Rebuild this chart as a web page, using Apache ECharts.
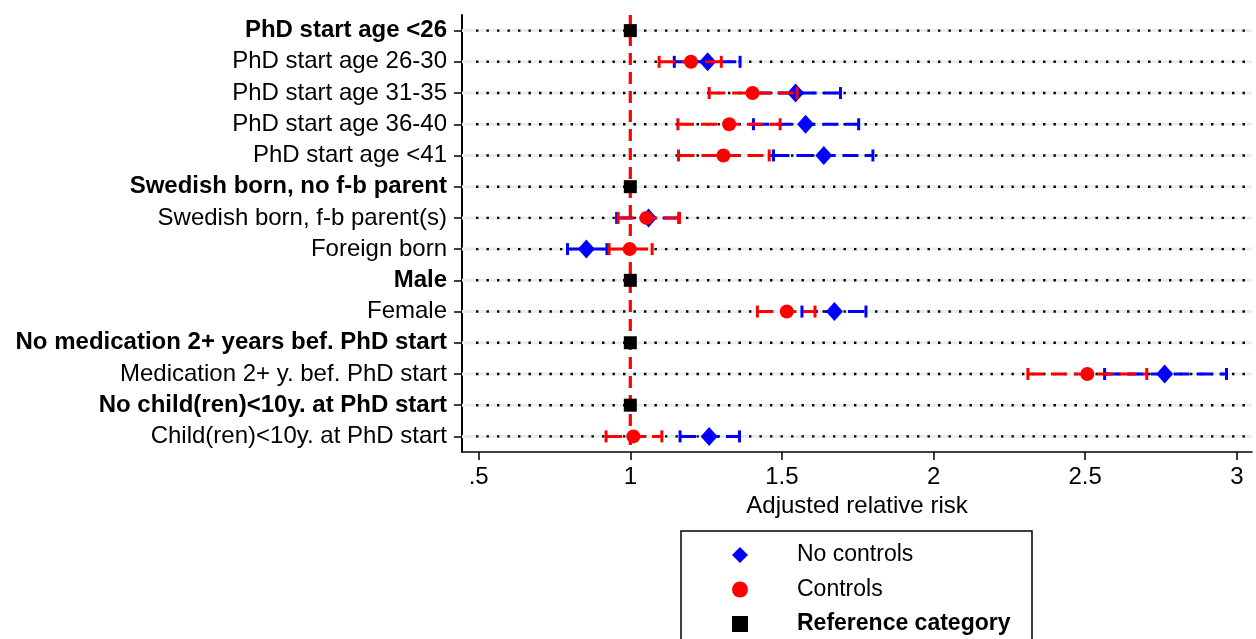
<!DOCTYPE html>
<html>
<head>
<meta charset="utf-8">
<script src="https://cdn.jsdelivr.net/npm/echarts@6/dist/echarts.min.js"></script>
<style>
  html, body { margin: 0; padding: 0; background: #fff; }
  #chart { width: 1256px; height: 639px; }
</style>
</head>
<body>
<div id="chart"></div>
<script>
// Row labels, top to bottom
const categories = [
  'PhD start age <26',
  'PhD start age 26-30',
  'PhD start age 31-35',
  'PhD start age 36-40',
  'PhD start age <41',
  'Swedish born, no f-b parent',
  'Swedish born, f-b parent(s)',
  'Foreign born',
  'Male',
  'Female',
  'No medication 2+ years bef. PhD start',
  'Medication 2+ y. bef. PhD start',
  'No child(ren)<10y. at PhD start',
  'Child(ren)<10y. at PhD start'
];
// 1 = reference category of its group
const isReference = [1, 0, 0, 0, 0, 1, 0, 0, 1, 0, 1, 0, 1, 0];
const referenceRR = 1;

// Model without controls: estimate and 95% CI
const noControlsRR = [null, 1.255, 1.545, 1.578, 1.638, null, 1.06, 0.855, null, 1.673, null, 2.762, null, 1.26];
const noControlsLo = [null, 1.145, 1.41, 1.406, 1.472, null, 0.955, 0.793, null, 1.566, null, 2.564, null, 1.164];
const noControlsHi = [null, 1.362, 1.693, 1.753, 1.80, null, 1.16, 0.923, null, 1.777, null, 2.966, null, 1.36];

// Model with controls: estimate and 95% CI
const controlsRR = [null, 1.20, 1.403, 1.326, 1.307, null, 1.053, 0.998, null, 1.516, null, 2.507, null, 1.01];
const controlsLo = [null, 1.095, 1.26, 1.157, 1.159, null, 0.96, 0.93, null, 1.419, null, 2.311, null, 0.92];
const controlsHi = [null, 1.30, 1.55, 1.494, 1.458, null, 1.162, 1.072, null, 1.609, null, 2.703, null, 1.104];

// x-axis ticks
const tickValues = [0.5, 1, 1.5, 2, 2.5, 3];
const tickLabels = ['.5', '1', '1.5', '2', '2.5', '3'];
const X_MIN = 0.445, X_MAX = 3.05;

const FONT = '"Liberation Sans", Arial, Helvetica, sans-serif';
const BLUE = '#0000ff', RED = '#ff0000';

function pointData(values) {
  const out = [];
  values.forEach((v, i) => { if (v != null) out.push([v, i]); });
  return out;
}
function ciData(lo, hi) {
  const out = [];
  lo.forEach((l, i) => { if (l != null) out.push([l, hi[i], i]); });
  return out;
}
const refPoints = [];
isReference.forEach((r, i) => { if (r) refPoints.push([referenceRR, i]); });

// Dashed interval with end caps
function ciRenderer(color) {
  return function (params, api) {
    const y = api.value(2);
    const a = api.coord([api.value(0), y]);
    const b = api.coord([api.value(1), y]);
    const half = 6;
    const solid = { stroke: color, lineWidth: 3, fill: null };
    return {
      type: 'group',
      children: [
        { type: 'line', shape: { x1: a[0], y1: a[1], x2: b[0], y2: b[1] },
          style: { stroke: color, lineWidth: 3, lineDash: [16, 7] } },
        { type: 'line', shape: { x1: a[0], y1: a[1] - half, x2: a[0], y2: a[1] + half }, style: solid },
        { type: 'line', shape: { x1: b[0], y1: b[1] - half, x2: b[0], y2: b[1] + half }, style: solid }
      ]
    };
  };
}

// Row guide: pale band with a dotted line on top
function guideRenderer(params, api) {
  const y = api.value(2);
  const a = api.coord([api.value(0), y]);
  const b = api.coord([api.value(1), y]);
  return {
    type: 'group',
    children: [
      { type: 'line', shape: { x1: a[0], y1: a[1], x2: b[0], y2: b[1] },
        style: { stroke: '#e6eef0', lineWidth: 3 } },
      { type: 'line', shape: { x1: a[0] + 14, y1: a[1], x2: b[0], y2: b[1] },
        style: { stroke: '#000', lineWidth: 2.4, lineDash: [2.4, 8.1] } }
    ]
  };
}

// Vertical dashed line at the reference value, spanning the plot height
function refLineRenderer(params, api) {
  const cs = params.coordSys;
  const x = api.coord([api.value(0), 0])[0];
  return {
    type: 'line',
    shape: { x1: x, y1: cs.y, x2: x, y2: cs.y + cs.height },
    style: { stroke: RED, lineWidth: 3.2, lineDash: [12, 7] }
  };
}

const chart = echarts.init(document.getElementById('chart'), null, { renderer: 'canvas' });

chart.setOption({
  animation: false,
  backgroundColor: '#fff',
  textStyle: { fontFamily: FONT },
  grid: { left: 462, right: 4, top: 15, bottom: 187 },
  // Legend frame; runs past the bottom edge of the canvas
  graphic: [{
    type: 'rect',
    silent: true,
    shape: { x: 681, y: 531, width: 351, height: 160 },
    style: { fill: null, stroke: '#000', lineWidth: 1.5 }
  }],
  legend: {
    orient: 'vertical',
    left: 681,
    top: 533,
    padding: [10, 22, 2, 51],
    itemWidth: 16,
    itemHeight: 16,
    itemGap: 10.5,
    data: ['No controls', 'Controls', 'Reference category'],
    formatter: name => name === 'Reference category' ? '{b|' + name + '}' : name,
    textStyle: {
      fontFamily: FONT, fontSize: 23, color: '#000', lineHeight: 24,
      padding: [0, 0, 0, 44],
      rich: { b: { fontFamily: FONT, fontSize: 23, fontWeight: 'bold', color: '#000', lineHeight: 24 } }
    }
  },
  xAxis: {
    type: 'value',
    min: X_MIN,
    max: X_MAX,
    name: 'Adjusted relative risk',
    nameLocation: 'middle',
    nameGap: 34,
    nameTextStyle: { fontFamily: FONT, fontSize: 24, color: '#000' },
    axisLine: { show: true, lineStyle: { color: '#000', width: 1.5 } },
    axisTick: { show: true, length: 8, lineStyle: { color: '#000', width: 1.5 }, customValues: tickValues },
    axisLabel: {
      fontFamily: FONT, fontSize: 24, color: '#000', margin: 13,
      customValues: tickValues,
      formatter: v => {
        const k = tickValues.findIndex(t => Math.abs(t - v) < 1e-9);
        return k >= 0 ? tickLabels[k] : '';
      }
    },
    splitLine: { show: false }
  },
  yAxis: {
    type: 'category',
    data: categories,
    inverse: true,
    axisLine: { show: true, lineStyle: { color: '#000', width: 2 } },
    axisTick: { show: true, alignWithLabel: true, length: 8, lineStyle: { color: '#000', width: 1.5 } },
    axisLabel: {
      fontFamily: FONT, fontSize: 24, color: '#000', margin: 15,
      formatter: (value, index) => isReference[index] ? '{b|' + value + '}' : value,
      rich: { b: { fontFamily: FONT, fontSize: 24, fontWeight: 'bold', color: '#000' } }
    },
    splitLine: { show: false }
  },
  series: [
    {
      name: 'guides',
      type: 'custom',
      z: 1,
      silent: true,
      renderItem: guideRenderer,
      encode: { x: [0, 1], y: 2 },
      data: categories.map((c, i) => [X_MIN, X_MAX, i])
    },
    {
      name: 'refLine',
      type: 'custom',
      z: 2,
      silent: true,
      renderItem: refLineRenderer,
      encode: { x: 0, y: 1 },
      data: [[referenceRR, 0]]
    },
    {
      name: 'No controls CI',
      type: 'custom',
      z: 3,
      renderItem: ciRenderer(BLUE),
      encode: { x: [0, 1], y: 2 },
      data: ciData(noControlsLo, noControlsHi)
    },
    {
      name: 'No controls',
      type: 'scatter',
      z: 4,
      symbol: 'diamond',
      symbolSize: [17, 19],
      itemStyle: { color: BLUE, opacity: 1 },
      data: pointData(noControlsRR)
    },
    {
      name: 'Controls CI',
      type: 'custom',
      z: 5,
      renderItem: ciRenderer(RED),
      encode: { x: [0, 1], y: 2 },
      data: ciData(controlsLo, controlsHi)
    },
    {
      name: 'Controls',
      type: 'scatter',
      z: 6,
      symbol: 'circle',
      symbolSize: 14,
      itemStyle: { color: RED, opacity: 1 },
      data: pointData(controlsRR)
    },
    {
      name: 'Reference category',
      type: 'scatter',
      z: 7,
      symbol: 'rect',
      symbolSize: 13,
      itemStyle: { color: '#000', opacity: 1 },
      data: refPoints
    }
  ]
});
</script>
</body>
</html>
